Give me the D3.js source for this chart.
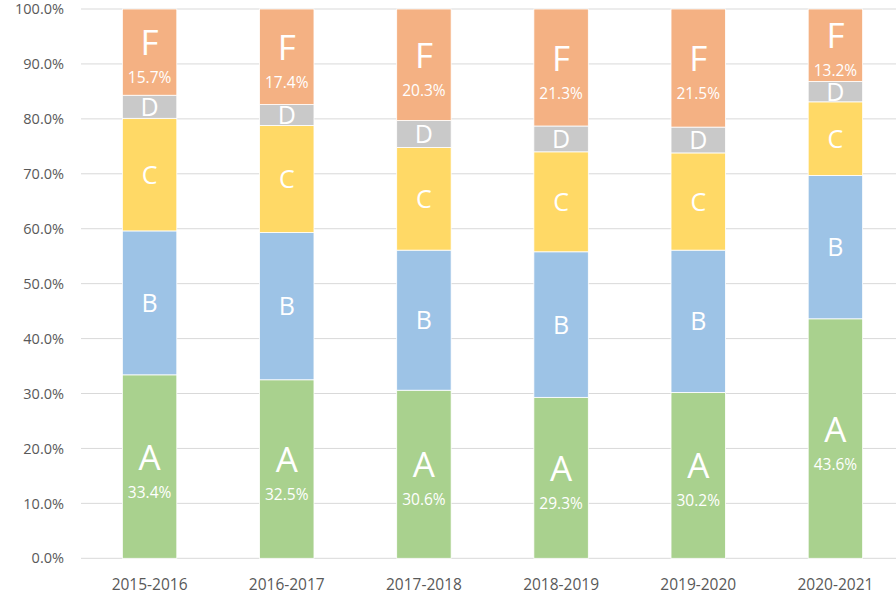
<!DOCTYPE html>
<html>
<head>
<meta charset="utf-8">
<script src="https://cdn.jsdelivr.net/npm/d3@7"></script>
<style>
  body { margin: 0; background: #fff; }
  text { font-family: 'Open Sans', sans-serif; }
</style>
</head>
<body>
<svg id="chart" width="896" height="601"></svg>
<script>
// values (percent of each year)
var years = ['2015-2016', '2016-2017', '2017-2018', '2018-2019', '2019-2020', '2020-2021'];
var seriesNames = ['A', 'B', 'C', 'D', 'F'];
var valuesA = [33.4, 32.5, 30.6, 29.3, 30.2, 43.6];
var valuesB = [26.2, 26.8, 25.5, 26.5, 25.9, 26.1];
var valuesC = [20.5, 19.5, 18.7, 18.2, 17.7, 13.4];
var valuesD = [4.2, 3.8, 4.9, 4.7, 4.7, 3.7];
var valuesF = [15.7, 17.4, 20.3, 21.3, 21.5, 13.2];
var yTicks = [0, 10, 20, 30, 40, 50, 60, 70, 80, 90, 100];
var colors = ['#a9d18e', '#9dc3e6', '#ffd966', '#c9c9c9', '#f4b183'];
var withPct = ['A', 'F']; // these segments also print their percentage

// plot box (note: "top" is taken by window.top, so use M.*)
var M = { W: 896, left: 81, right: 904, top: 9, bottom: 558.3 };

// build rows for d3.stack
var series = { A: valuesA, B: valuesB, C: valuesC, D: valuesD, F: valuesF };
var rows = years.map(function(yr, i) {
  var r = { year: yr };
  seriesNames.forEach(function(s) { r[s] = series[s][i]; });
  return r;
});
var stacked = d3.stack().keys(seriesNames)(rows);

var x = d3.scaleBand()
  .domain(years)
  .range([M.left, M.right])
  .paddingInner(0.603)
  .paddingOuter(0.3015);
var y = d3.scaleLinear()
  .domain([0, 100])
  .range([M.bottom, M.top]);
var color = d3.scaleOrdinal().domain(seriesNames).range(colors);

var svg = d3.select('#chart');

// gridlines
svg.append('g')
  .selectAll('line')
  .data(yTicks)
  .enter()
  .append('line')
  .attr('x1', M.left)
  .attr('x2', M.W)
  .attr('y1', function(d) { return y(d); })
  .attr('y2', function(d) { return y(d); })
  .attr('stroke', '#d9d9d9')
  .attr('stroke-width', 1);

// y axis labels
var yAxis = svg.append('g')
  .attr('transform', 'translate(' + M.left + ',0)')
  .call(d3.axisLeft(y)
    .tickValues(yTicks)
    .tickSize(0)
    .tickPadding(17)
    .tickFormat(function(d) { return d.toFixed(1) + '%'; }));
yAxis.select('.domain').remove();
yAxis.selectAll('text')
  .style('font-family', "'Open Sans', sans-serif")
  .style('font-size', '14.5px')
  .attr('fill', '#595959');

// x axis labels
var xAxis = svg.append('g')
  .attr('transform', 'translate(0,' + M.bottom + ')')
  .call(d3.axisBottom(x).tickSize(0));
xAxis.select('.domain').remove();
xAxis.selectAll('text')
  .attr('y', 31.5)
  .attr('dy', 0)
  .style('font-family', "'Open Sans', sans-serif")
  .style('font-size', '15.5px')
  .attr('fill', '#595959');

// bars
var layers = svg.append('g')
  .selectAll('g')
  .data(stacked)
  .enter()
  .append('g')
  .attr('fill', function(d) { return color(d.key); });

layers.selectAll('rect')
  .data(function(d) { return d; })
  .enter()
  .append('rect')
  .attr('x', function(d) { return x(d.data.year); })
  .attr('width', x.bandwidth())
  .attr('y', function(d) { return y(d[1]); })
  .attr('height', function(d) { return y(d[0]) - y(d[1]); })
  .attr('stroke', '#fff')
  .attr('stroke-width', 0.8);

// labels inside the segments
stacked.forEach(function(layer) {
  var key = layer.key;
  var big = withPct.indexOf(key) >= 0;
  var g = svg.append('g').attr('fill', '#fff').attr('text-anchor', 'middle');
  layer.forEach(function(d) {
    var cx = x(d.data.year) + x.bandwidth() / 2;
    var mid = (y(d[0]) + y(d[1])) / 2;
    if (big) {
      g.append('text')
        .attr('x', cx)
        .attr('y', mid + 3)
        .style('font-size', '35px')
        .text(key);
      g.append('text')
        .attr('x', cx)
        .attr('y', mid + 31)
        .style('font-size', '15.5px')
        .text(d.data[key].toFixed(1) + '%');
    } else {
      g.append('text')
        .attr('x', cx)
        .attr('y', mid + 9)
        .style('font-size', '25px')
        .text(key);
    }
  });
});
</script>
</body>
</html>
